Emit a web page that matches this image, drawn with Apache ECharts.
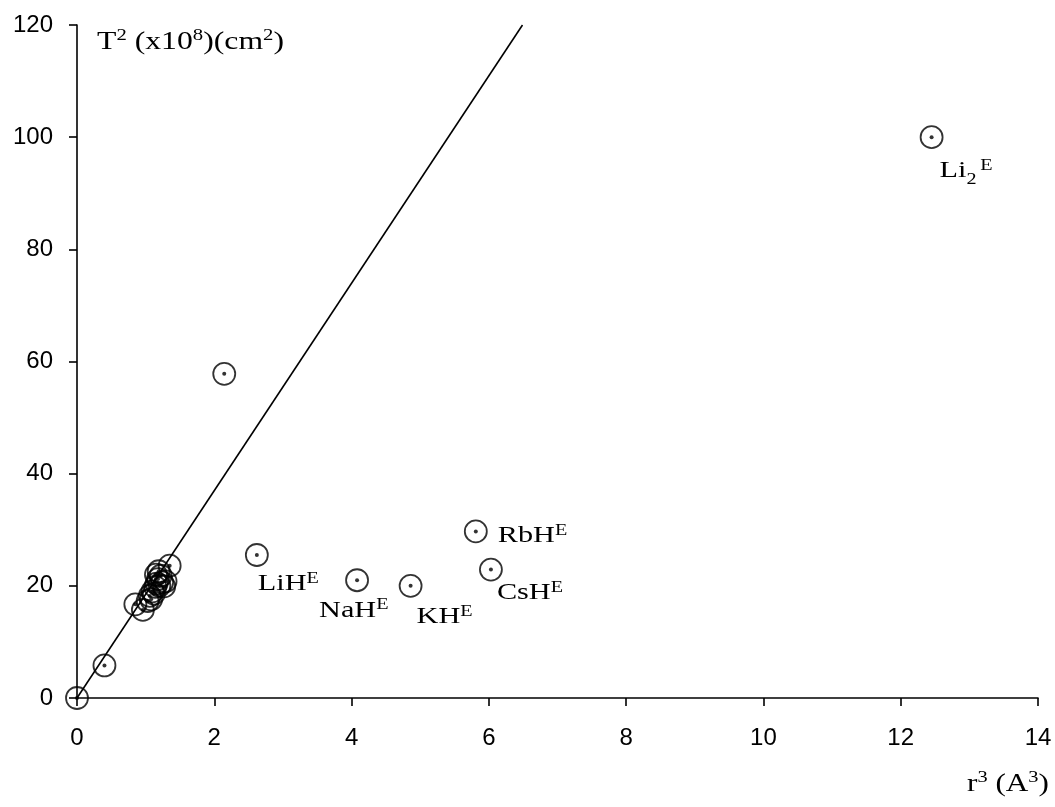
<!DOCTYPE html>
<html>
<head>
<meta charset="utf-8">
<script src="https://cdn.jsdelivr.net/npm/echarts@6/dist/echarts.min.js"></script>
<style>
  html, body { margin: 0; padding: 0; background: #fff; }
  #chart { width: 1055px; height: 807px; }
</style>
</head>
<body>
<div id="chart"></div>
<script>
// Unlabelled molecules: r^3 (A^3) and T^2 (x10^8 cm^2)
const plainX = [0, 0.40, 0.85, 0.96, 1.03, 1.06, 1.08, 1.10, 1.12, 1.14, 1.16, 1.18, 1.20, 1.22, 1.19, 1.24, 1.27, 1.29, 1.15, 1.35, 2.145];
const plainY = [0, 5.8, 16.7, 15.7, 17.3, 18.2, 17.6, 19.0, 18.6, 19.8, 20.4, 21.2, 20.0, 21.8, 22.6, 20.6, 19.9, 20.8, 22.0, 23.6, 57.8];

// Labelled molecules
const labelNames = ['LiH', 'NaH', 'KH', 'RbH', 'CsH', 'Li2'];
const labelX = [2.62, 4.08, 4.86, 5.81, 6.03, 12.45];
const labelY = [25.5, 21.0, 20.0, 29.7, 22.9, 100.0];

// Straight line through the origin
const fitLine = [[0, 0], [6.49, 120]];

const xMax = 14, xStep = 2;
const yMax = 120, yStep = 20;

// Label placement: offset of the label box from the marker centre
const labelOffsets = {
  LiH: [1, 12], NaH: [-38, 13], KH: [6, 14], RbH: [22, -13], CsH: [6, 6], Li2: [8, 17]
};

const serif = '"Liberation Serif", "Times New Roman", serif';
const sans = '"Liberation Sans", Arial, sans-serif';
const textWiden = 1.26;

const labelRich = {
  b:      { fontFamily: serif, fontSize: 24, lineHeight: 34, fill: '#000' },
  sup:    { fontFamily: serif, fontSize: 16, lineHeight: 16, verticalAlign: 'top', padding: [4, 0, 0, 0], fill: '#000' },
  sub:    { fontFamily: serif, fontSize: 16, lineHeight: 16, verticalAlign: 'bottom', fill: '#000' },
  supGap: { fontFamily: serif, fontSize: 16, lineHeight: 16, verticalAlign: 'top', padding: [4, 0, 0, 3], fill: '#000' }
};
const titleRich = {
  b:   { fontFamily: serif, fontSize: 26, lineHeight: 34, fill: '#000' },
  sup: { fontFamily: serif, fontSize: 17, lineHeight: 17, verticalAlign: 'top', padding: [2, 0, 0, 0], fill: '#000' }
};

function labelText(name) {
  if (name === 'Li2') return '{b|Li}{sub|2}{supGap|E}';
  return '{b|' + name + '}{sup|E}';
}

const allPoints = plainX.map((x, i) => [x, plainY[i]])
  .concat(labelX.map((x, i) => [x, labelY[i]]));
const labelData = labelX.map((x, i) => [x, labelY[i]]);

const chart = echarts.init(document.getElementById('chart'), null, { renderer: 'canvas' });

const axisLine = { show: true, onZero: false, lineStyle: { color: '#000', width: 1.6 } };
const axisTick = { show: true, inside: false, length: 8, lineStyle: { color: '#000', width: 1.6 } };

chart.setOption({
  animation: false,
  backgroundColor: '#fff',
  grid: { left: 77, right: 17, top: 25, bottom: 109, containLabel: false },
  xAxis: {
    type: 'value', min: 0, max: xMax, interval: xStep,
    axisLine, axisTick,
    splitLine: { show: false },
    axisLabel: { color: '#000', fontFamily: sans, fontSize: 24, margin: 28 }
  },
  yAxis: {
    type: 'value', min: 0, max: yMax, interval: yStep,
    axisLine, axisTick,
    splitLine: { show: false },
    axisLabel: { color: '#000', fontFamily: sans, fontSize: 24, margin: 24 }
  },
  graphic: [
    {
      type: 'text', x: 97, y: 25, scaleX: 1.22,
      style: { text: '{b|T}{sup|2}{b| (x10}{sup|8}{b|)(cm}{sup|2}{b|)}', rich: titleRich }
    },
    {
      type: 'text', x: 967, y: 767, scaleX: 1.2,
      style: { text: '{b|r}{sup|3}{b| (A}{sup|3}{b|)}', rich: titleRich }
    }
  ],
  series: [
    {
      type: 'line',
      data: fitLine,
      showSymbol: false,
      silent: true,
      lineStyle: { color: '#000', width: 1.6 },
      z: 1
    },
    {
      type: 'scatter',
      data: allPoints,
      symbol: 'circle',
      symbolSize: 22,
      clip: false,
      itemStyle: { color: 'rgba(0,0,0,0)', borderColor: '#000', borderWidth: 1.8 },
      z: 2
    },
    {
      type: 'scatter',
      data: allPoints,
      symbol: 'circle',
      symbolSize: 4,
      clip: false,
      itemStyle: { color: '#000' },
      z: 3
    },
    {
      // molecule names next to their markers
      type: 'custom',
      data: labelData,
      clip: false,
      silent: true,
      z: 4,
      renderItem: function (params, api) {
        const p = api.coord([api.value(0), api.value(1)]);
        const name = labelNames[params.dataIndex];
        const off = labelOffsets[name];
        return {
          type: 'text',
          x: p[0] + off[0],
          y: p[1] + off[1],
          scaleX: textWiden,
          style: { text: labelText(name), rich: labelRich, fill: '#000' }
        };
      }
    }
  ]
});
</script>
</body>
</html>
